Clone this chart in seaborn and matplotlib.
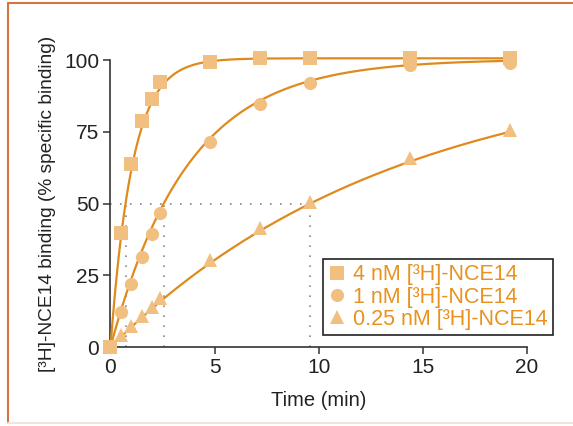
import numpy as np
import pandas as pd
import matplotlib
matplotlib.use("Agg")
import matplotlib.pyplot as plt
from matplotlib.lines import Line2D
import seaborn as sns

# Sampling times (min)
time_min = [0, 0.5, 1, 1.5, 2, 2.4, 4.8, 7.2, 9.6, 14.4, 19.2]

# Specific binding (%) for each radioligand concentration
binding_4nM = [0, 39.6, 63.7, 78.6, 86.5, 92.3, 99.3, 100.6, 100.6, 100.6, 100.6]
binding_1nM = [0, 12.3, 22.1, 31.5, 39.4, 46.6, 71.3, 84.7, 91.9, 98.3, 98.8]
binding_025nM = [0, 4.2, 7.3, 10.8, 14.0, 17.2, 30.3, 41.4, 50.4, 65.7, 75.6]

series_labels = ["4 nM [³H]-NCE14", "1 nM [³H]-NCE14", "0.25 nM [³H]-NCE14"]

# One-phase association fit parameters: half-time (min) and plateau (%)
half_times = [0.73, 2.57, 9.6]
plateaus = [100.6, 100.3, 100.0]

x_ticks = [0, 5, 10, 15, 20]
y_ticks = [0, 25, 50, 75, 100]

sns.set_style("ticks")
plt.rcParams["font.family"] = ["Liberation Sans", "DejaVu Sans"]

line_color = "#E08A1C"
marker_color = "#F1BF80"
text_orange = "#E8921F"
axis_color = "#333333"
markers = ["s", "o", "^"]
msizes = [10, 9.5, 10]

points = pd.DataFrame({
    "time": time_min * 3,
    "binding": binding_4nM + binding_1nM + binding_025nM,
    "series": sum([[lab] * len(time_min) for lab in series_labels], []),
})

fig = plt.figure(figsize=(5.73, 4.26), dpi=100)
ax = fig.add_axes([0.1928, 0.1854, 0.7264, 0.6737])

# Fitted association curves
t_fine = np.linspace(0, max(time_min), 400)
for lab, th, bm in zip(series_labels, half_times, plateaus):
    k = np.log(2) / th
    curve = pd.DataFrame({"time": t_fine, "binding": bm * (1 - np.exp(-k * t_fine))})
    sns.lineplot(data=curve, x="time", y="binding", color=line_color, lw=1.6,
                 ax=ax, legend=False, zorder=3, clip_on=False, estimator=None)

# Half-time guides at 50 % binding
ax.plot([0, max(half_times)], [50, 50], color="#8a8a8a", lw=1.2,
        linestyle=(0, (1, 5)), zorder=2)
for th in half_times:
    ax.plot([th, th], [0, 50], color="#8a8a8a", lw=1.2,
            linestyle=(0, (1, 5)), zorder=2)

# Measured points (4 nM squares drawn last so they stay on top)
for lab, mk, ms in reversed(list(zip(series_labels, markers, msizes))):
    sub = points[points["series"] == lab]
    sns.lineplot(data=sub, x="time", y="binding", ax=ax, linestyle="none",
                 marker=mk, markersize=ms, color=marker_color,
                 markeredgewidth=0, legend=False, zorder=4, clip_on=False,
                 estimator=None)

ax.set_xlim(0, 20)
ax.set_ylim(0, 100)
ax.set_xticks(x_ticks)
ax.set_yticks(y_ticks)
ax.tick_params(axis="both", direction="out", length=5, width=1.1,
               color=axis_color, labelsize=15, labelcolor="#222222", pad=3)
for side in ["left", "bottom"]:
    ax.spines[side].set_color(axis_color)
    ax.spines[side].set_linewidth(1.2)
sns.despine(ax=ax)

ax.set_xlabel("Time (min)", fontsize=14.5, color="#222222", labelpad=10)
ax.set_ylabel("[³H]-NCE14 binding (% specific binding)", fontsize=13.8,
              color="#222222", labelpad=6)

handles = [Line2D([], [], linestyle="none", marker=mk, markersize=ms,
                  color=marker_color, markeredgewidth=0)
           for mk, ms in zip(markers, msizes)]
leg = ax.legend(handles, series_labels, loc="lower left",
                bbox_to_anchor=(0.51, 0.042), borderaxespad=0,
                frameon=True, fancybox=False, fontsize=15.5, handlelength=0.8,
                handletextpad=0.35, labelspacing=0.05, borderpad=0.25)
leg.get_frame().set_edgecolor("#222222")
leg.get_frame().set_linewidth(1.2)
leg.get_frame().set_alpha(1)
for txt in leg.get_texts():
    txt.set_color(text_orange)

# Panel frame: strong top/left edges, faint bottom edge
fx0, fy0, fy1 = 8 / 573, 3 / 426, 1 - 3 / 426
fig.add_artist(Line2D([fx0, 1.0], [fy1, fy1], transform=fig.transFigure,
                      color="#D4743E", lw=1.5))
fig.add_artist(Line2D([fx0, fx0], [fy0, fy1], transform=fig.transFigure,
                      color="#D4743E", lw=1.5))
fig.add_artist(Line2D([fx0, 1.0], [fy0, fy0], transform=fig.transFigure,
                      color="#F6E2D6", lw=1.5))

fig.savefig("out.png", dpi=100)
